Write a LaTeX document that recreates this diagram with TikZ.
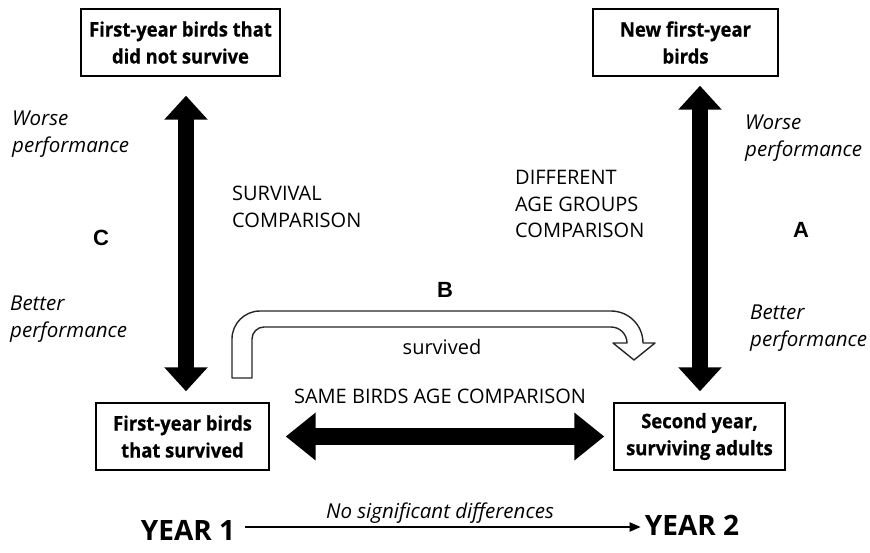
\documentclass[tikz,border=0pt]{standalone}
\usepackage{fontspec}
\setmainfont{Open Sans}
\newfontfamily\boxfont[FakeStretch=0.92,FakeBold=0.6]{Open Sans}
\newfontfamily\arialf{Liberation Sans}
\usetikzlibrary{arrows.meta}
\tikzset{
  box/.style={draw=black, line width=1.4pt, align=center, inner sep=0pt,
    minimum height=67pt, font=\boxfont\fontsize{20}{27}\selectfont\bfseries},
  lbl/.style={align=left, inner sep=0pt, anchor=west, font=\fontsize{20}{26.5}\selectfont},
  ilbl/.style={lbl, font=\fontsize{20.5}{26.5}\selectfont\itshape},
  letter/.style={inner sep=0pt, font=\fontsize{22}{24}\selectfont\arialf\bfseries},
  vbig/.style={line width=16pt, {Triangle[width=42pt,length=24pt]}-{Triangle[width=42pt,length=24pt]}},
  hbig/.style={line width=17pt, {Triangle[width=46pt,length=30pt]}-{Triangle[width=46pt,length=30pt]}},
  year/.style={inner sep=0pt, font=\fontsize{28}{30}\selectfont\bfseries},
  thinarrow/.style={line width=2pt, -{Triangle[width=9pt,length=11pt]}},
  hollow/.style={draw=black!85, line width=1.4pt, fill=white, line join=round}
}
\begin{document}
\begin{tikzpicture}[x=1pt,y=-1pt]
\useasboundingbox (0,0) rectangle (870,552);
% boxes
\node[box, minimum width=199pt] (nsurv) at (180.5,42.5) {First-year birds that\\did not survive};
\node[box, minimum width=185pt] (newfy) at (685.5,42.5) {New first-year\\birds};
\node[box, minimum width=173pt] (surv) at (182.5,436.5) {First-year birds\\that survived};
\node[box, minimum width=171pt] (second) at (699.5,436.5) {Second year,\\surviving adults};
% big arrows
\draw[vbig] ([xshift=5.5pt,yshift=-19pt]nsurv.south) -- ([xshift=3.5pt,yshift=11pt]surv.north);
\draw[vbig] ([xshift=14.5pt,yshift=-9pt]newfy.south) -- ([xshift=0.5pt,yshift=11pt]second.north);
\draw[hbig] ([xshift=16pt]surv.east) -- ([xshift=-9pt]second.west);
% hollow arrow B
\draw[hollow] (232,378) -- (232,339) arc[start angle=180,end angle=270,radius=28]
  -- (611,311) arc[start angle=270,end angle=360,radius=32]
  -- (655,343) -- (634,360) -- (613,343) -- (627,343)
  arc[start angle=0,end angle=-90,radius=16]
  -- (264,327) arc[start angle=270,end angle=180,radius=12] -- (252,378) -- cycle;
% labels
\node[ilbl] (wl) at (12,134) {Worse\\performance};
\node[ilbl] (bl) at (10,319) {Better\\performance};
\node[letter] (c) at (101,238) {C};
\node[lbl] (sc) at (232,207) {SURVIVAL\\COMPARISON};
\node[lbl] (dag) at (515,204) {DIFFERENT\\AGE GROUPS\\COMPARISON};
\node[letter] (a) at (801,230) {A};
\node[ilbl] (wr) at (745,138) {Worse\\performance};
\node[ilbl] (br) at (750,328) {Better\\performance};
\node[letter] (b) at (445,290) {B};
\node[inner sep=0pt, font=\fontsize{20}{22}\selectfont] (sv) at (442,347) {survived};
\node[inner sep=0pt, font=\fontsize{20}{22}\selectfont] (same) at (440,396) {SAME BIRDS AGE COMPARISON};
\node[inner sep=0pt, font=\fontsize{20.5}{22}\selectfont\itshape] (nsd) at (440,513) {No significant differences};
% years
\node[year] (y1) at (188,530) {YEAR 1};
\node[year] (y2) at (692,525) {YEAR 2};
\draw[thinarrow] ([xshift=10pt]y1.east |- 0,527) -- ([xshift=-4pt]y2.west |- 0,527);
\end{tikzpicture}
\end{document}
